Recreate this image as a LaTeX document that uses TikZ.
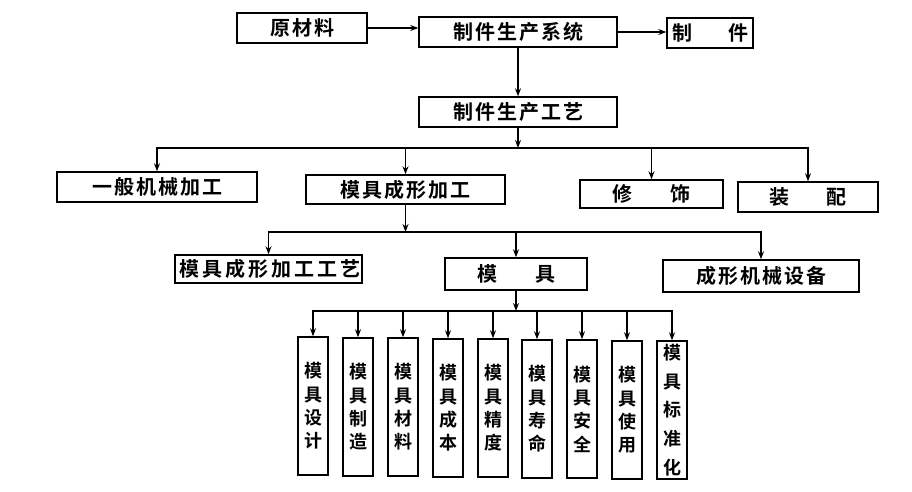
\documentclass[tikz,border=0pt]{standalone}
\usepackage{fontspec}
\newfontfamily\cjk{Noto Sans CJK SC}[BoldFont={Noto Sans CJK SC Bold}]
\newfontfamily\cjksp{Noto Sans CJK SC}[BoldFont={Noto Sans CJK SC Bold},LetterSpace=10]
\newfontfamily\cjkwide{Noto Sans CJK SC}[BoldFont={Noto Sans CJK SC Bold},LetterSpace=15]
\usetikzlibrary{arrows.meta}
\begin{document}
\begin{tikzpicture}[x=1pt,y=-1pt,
  box/.style={draw=black, line width=1.5pt, inner sep=0pt, fill=white,
    font=\cjksp\bfseries\fontsize{20}{22}\selectfont},
  vbox/.style={draw=black, line width=1.5pt, inner sep=0pt, minimum width=30, minimum height=138,
    align=center, font=\cjk\bfseries\fontsize{18}{23.3}\selectfont},
  conn/.style={line width=1.2pt, draw=black},
  arr/.style={conn, -{Stealth[length=8pt,width=6pt]}}]
\fill[white] (0,0) rectangle (912,491);
\useasboundingbox (0,0) rectangle (912,491);

% top row
\node[box, minimum width=130, minimum height=30] (ycl) at (302,28) {原材料};
\node[box, minimum width=198, minimum height=30] (sys) at (518,32) {制件生产系统};
\node[box, minimum width=86, minimum height=30] (zj) at (710,33) {\cjk\bfseries 制\hspace{36pt}件};
\node[box, minimum width=198, minimum height=30] (gy) at (518,112) {制件生产工艺};

\draw[arr] (ycl.east) -- (ycl.east -| sys.west);
\draw[arr] (sys.east) -- (sys.east -| zj.west);
\draw[arr] (sys.south) -- (gy.north);

% second row
\node[box, minimum width=200, minimum height=30] (yb) at (157,187) {一般机械加工};
\node[box, minimum width=199, minimum height=29] (mj) at (405.5,189.5) {模具成形加工};
\node[box, minimum width=143, minimum height=28] (xs) at (651.5,194) {\cjk\bfseries 修\hspace{38pt}饰};
\node[box, minimum width=140, minimum height=30] (zp) at (808,197) {\cjk\bfseries 装\hspace{37pt}配};

\coordinate (b1) at (518,148);
\draw[arr] (gy.south) -- (b1);
\draw[arr] (b1) -| (yb.north);
\draw[arr] (b1) -| (mj.north);
\draw[arr] (b1) -| (xs.north);
\draw[arr] (b1) -| (zp.north);

% third row
\node[box, minimum width=187, minimum height=28, font=\cjkwide\bfseries\fontsize{20}{22}\selectfont] (gy2) at (268.5,269) {\hspace{3pt}模具成形加工工艺};
\node[box, minimum width=142, minimum height=32] (mjb) at (516,274) {\cjk\bfseries 模\hspace{38pt}具};
\node[box, minimum width=196, minimum height=32] (sb) at (761,276) {成形机械设备};

\coordinate (b2) at (405.5,232);
\draw[arr] (mj.south) -- (b2);
\draw[arr] (b2) -| (gy2.north);
\draw[arr] (b2) -| (mjb.north);
\draw[arr] (b2) -| (sb.north);

% bottom row
\node[vbox] (v1) at (313,406) {模\\具\\设\\计};
\node[vbox] (v2) at (358,407) {模\\具\\制\\造};
\node[vbox] (v3) at (403,407) {模\\具\\材\\料};
\node[vbox] (v4) at (448,408) {模\\具\\成\\本};
\node[vbox] (v5) at (493,408) {模\\具\\精\\度};
\node[vbox] (v6) at (537,409) {模\\具\\寿\\命};
\node[vbox] (v7) at (582,409) {模\\具\\安\\全};
\node[vbox] (v8) at (627,410) {模\\具\\使\\用};
\node[vbox, font=\cjk\bfseries\fontsize{18}{28.7}\selectfont] (v9) at (672,410) {模\\具\\标\\准\\化};

\coordinate (b3) at (516,311);
\draw[arr] (mjb.south) -- (b3);
\foreach \n in {v1,v2,v3,v4,v5,v6,v7,v8,v9}
  \draw[arr] (b3) -| (\n.north);
\end{tikzpicture}
\end{document}
